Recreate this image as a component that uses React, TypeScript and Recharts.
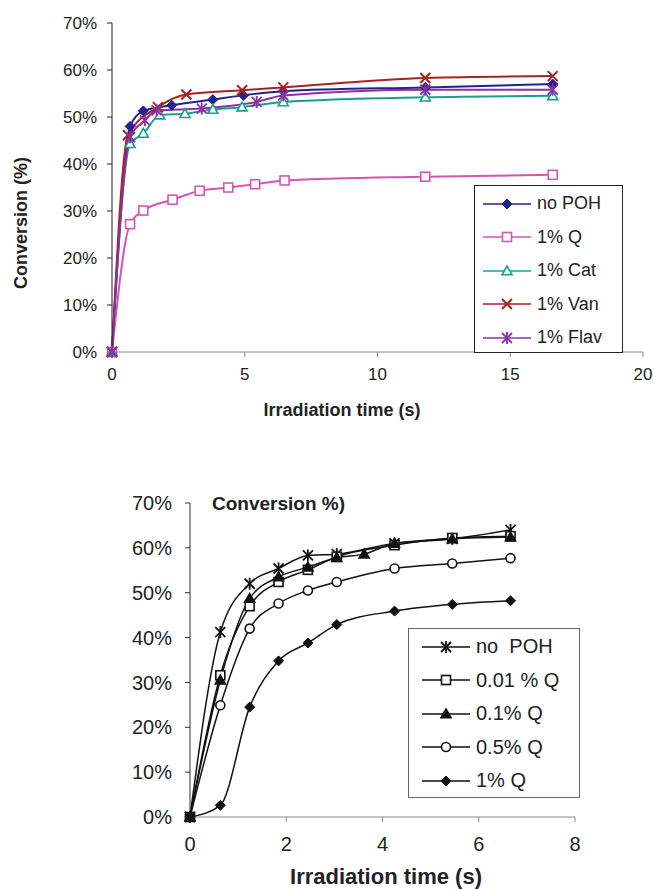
import React from 'react'
import { LineChart, Line, XAxis, YAxis, Legend, Label } from 'recharts'

// top panel: conversion vs irradiation time, polyphenol additives (%)
const noPohTime = [0, 0.68, 1.18, 2.25, 3.8, 4.95, 6.45, 11.8, 16.6]
const noPohConv = [0, 48.0, 51.3, 52.5, 53.7, 54.6, 55.5, 56.3, 57.0]
const qTime = [0, 0.68, 1.18, 2.28, 3.3, 4.38, 5.39, 6.5, 11.8, 16.6]
const qConv = [0, 27.2, 30.1, 32.4, 34.3, 35.0, 35.7, 36.5, 37.3, 37.7]
const catTime = [0, 0.68, 1.18, 1.8, 2.75, 3.8, 4.9, 6.45, 11.8, 16.6]
const catConv = [0, 44.3, 46.5, 50.4, 50.7, 51.6, 52.1, 53.2, 54.2, 54.5]
const vanTime = [0, 0.6, 1.73, 2.8, 4.9, 6.45, 11.8, 16.6]
const vanConv = [0, 46.1, 52.1, 54.8, 55.7, 56.3, 58.3, 58.7]
const flavTime = [0, 0.68, 1.24, 1.68, 3.38, 5.45, 6.45, 11.8, 16.6]
const flavConv = [0, 45.7, 49.3, 51.4, 51.8, 53.2, 54.6, 55.8, 55.8]

// bottom panel: quercetin concentration series
const qSeriesTime = [0, 0.63, 1.24, 1.84, 2.45, 3.05, 3.62, 4.25, 5.45, 6.66]
const pohFreeConv = [0, 41.2, 52.0, 55.4, 58.3, 58.6, null, 61.0, 62.0, 64.0]
const q001Conv = [0, 31.6, 47.0, 52.4, 55.1, 58.0, null, 60.6, 62.2, 62.6]
const q01Conv = [0, 30.5, 48.7, 53.5, 55.7, 57.8, 58.6, 61.0, 62.0, 62.4]
const q05Conv = [0, 24.9, 42.0, 47.6, 50.5, 52.4, null, 55.4, 56.5, 57.7]
const q1Conv = [0, 2.6, 24.5, 34.8, 38.8, 42.9, null, 45.9, 47.4, 48.2]

const topXTicks = [0, 5, 10, 15, 20]
const bottomXTicks = [0, 2, 4, 6, 8]
const yTicks = [0, 10, 20, 30, 40, 50, 60, 70]

const toPoints = (xs: number[], ys: (number | null)[]) =>
  xs.map((t, i) => ({ t, v: ys[i] })).filter((p) => p.v !== null)

type Shape = 'diamond' | 'square' | 'triangle' | 'triangleFilled' | 'x' | 'asterisk' | 'circle'

function Mark({ shape, cx, cy, color, s = 5 }: { shape: Shape; cx: number; cy: number; color: string; s?: number }) {
  const sw = 1.6
  switch (shape) {
    case 'diamond':
      return <polygon points={`${cx},${cy - s} ${cx + s},${cy} ${cx},${cy + s} ${cx - s},${cy}`} fill={color} stroke={color} />
    case 'square':
      return <rect x={cx - s + 0.5} y={cy - s + 0.5} width={2 * s - 1} height={2 * s - 1} fill="#fff" stroke={color} strokeWidth={sw} />
    case 'triangle':
    case 'triangleFilled':
      return (
        <polygon
          points={`${cx},${cy - s} ${cx + s},${cy + s * 0.75} ${cx - s},${cy + s * 0.75}`}
          fill={shape === 'triangle' ? '#fff' : color}
          stroke={color}
          strokeWidth={sw}
        />
      )
    case 'circle':
      return <circle cx={cx} cy={cy} r={s - 0.5} fill="#fff" stroke={color} strokeWidth={sw} />
    case 'x':
      return (
        <g stroke={color} strokeWidth={2}>
          <line x1={cx - s} y1={cy - s} x2={cx + s} y2={cy + s} />
          <line x1={cx - s} y1={cy + s} x2={cx + s} y2={cy - s} />
        </g>
      )
    case 'asterisk':
      return (
        <g stroke={color} strokeWidth={1.8}>
          <line x1={cx - s} y1={cy - s} x2={cx + s} y2={cy + s} />
          <line x1={cx - s} y1={cy + s} x2={cx + s} y2={cy - s} />
          <line x1={cx} y1={cy - s - 1} x2={cx} y2={cy + s + 1} />
        </g>
      )
  }
  return null
}

interface Series {
  name: string
  color: string
  shape: Shape
  data: { t: number; v: number | null }[]
}

const topSeries: Series[] = [
  { name: 'no POH', color: '#23238c', shape: 'diamond', data: toPoints(noPohTime, noPohConv) },
  { name: '1% Q', color: '#d455b4', shape: 'square', data: toPoints(qTime, qConv) },
  { name: '1% Cat', color: '#17a08e', shape: 'triangle', data: toPoints(catTime, catConv) },
  { name: '1% Van', color: '#a82222', shape: 'x', data: toPoints(vanTime, vanConv) },
  { name: '1% Flav', color: '#8e2fa3', shape: 'asterisk', data: toPoints(flavTime, flavConv) },
]

const bottomSeries: Series[] = [
  { name: 'no  POH', color: '#111', shape: 'asterisk', data: toPoints(qSeriesTime, pohFreeConv) },
  { name: '0.01 % Q', color: '#111', shape: 'square', data: toPoints(qSeriesTime, q001Conv) },
  { name: '0.1% Q', color: '#111', shape: 'triangleFilled', data: toPoints(qSeriesTime, q01Conv) },
  { name: '0.5% Q', color: '#111', shape: 'circle', data: toPoints(qSeriesTime, q05Conv) },
  { name: '1% Q', color: '#111', shape: 'diamond', data: toPoints(qSeriesTime, q1Conv) },
]

function LegendBox({ series, fontSize, padLeft, markSize, border }: { series: Series[]; fontSize: number; padLeft: number; markSize: number; border: string }) {
  return (
    <div
      style={{
        boxSizing: 'border-box', width: '100%', height: '100%', border: `1.5px solid ${border}`,
        background: '#fff', paddingLeft: padLeft, paddingTop: 1,
      }}
    >
      {series.map((s) => (
        <div key={s.name} style={{ height: 33.5, display: 'flex', alignItems: 'center', fontSize, color: '#222', whiteSpace: 'pre' }}>
          <svg width={48} height={16} style={{ marginRight: 6 }}>
            <line x1={0} y1={8} x2={48} y2={8} stroke={s.color} strokeWidth={1.6} />
            <Mark shape={s.shape} cx={24} cy={8} color={s.color} s={markSize} />
          </svg>
          <span>{s.name}</span>
        </div>
      ))}
    </div>
  )
}

const font = 'Liberation Sans, Arial, sans-serif'

export default function App() {
  return (
    <div style={{ position: 'absolute', left: 0, top: 0, width: 654, height: 889, background: '#fff', fontFamily: font }}>
      {/* 위쪽 그래프 */}
      <div style={{ position: 'absolute', left: 0, top: 0 }}>
        <LineChart width={654} height={430} margin={{ top: 23, right: 11, bottom: 38, left: 0 }}>
          <XAxis
            type="number" dataKey="t" domain={[0, 20]} ticks={topXTicks} allowDuplicatedCategory={false}
            height={40} tickSize={5} tickMargin={11} stroke="#888"
            tick={{ fontSize: 17, fill: '#222', fontFamily: font }}
          >
            <Label content={() => (
              <text x={342} y={416} textAnchor="middle" fontSize={18} fontWeight="bold" fill="#222" fontFamily={font}>
                Irradiation time (s)
              </text>
            )} />
          </XAxis>
          <YAxis
            type="number" dataKey="v" domain={[0, 70]} ticks={yTicks} width={112}
            tickSize={5} tickMargin={10} stroke="#222" tickFormatter={(v) => `${v}%`}
            tick={{ fontSize: 17, fill: '#222', fontFamily: font }}
          >
            <Label content={() => (
              <text x={27} y={223} transform="rotate(-90 27 223)" textAnchor="middle" fontSize={18} fontWeight="bold" fill="#222" fontFamily={font}>
                Conversion (%)
              </text>
            )} />
          </YAxis>
          {topSeries.map((s) => (
            <Line
              key={s.name} data={s.data} dataKey="v" name={s.name} type="monotone"
              stroke={s.color} strokeWidth={2} isAnimationActive={false}
              dot={(p: any) => <Mark key={`${s.name}-${p.index}`} shape={s.shape} cx={p.cx} cy={p.cy} color={s.color} s={5} />}
            />
          ))}
          <Legend
            layout="vertical" align="center" verticalAlign="middle"
            wrapperStyle={{ left: 474, top: 185, width: 149, height: 168 }}
            content={() => <LegendBox series={topSeries} fontSize={18} padLeft={8} markSize={5} border="#222" />}
          />
        </LineChart>
      </div>

      {/* 아래쪽 그래프 */}
      <div style={{ position: 'absolute', left: 0, top: 440 }}>
        <LineChart width={654} height={449} margin={{ top: 63, right: 79, bottom: 30, left: 0 }}>
          <XAxis
            type="number" dataKey="t" domain={[0, 8]} ticks={bottomXTicks} allowDuplicatedCategory={false}
            height={42} tickSize={5} tickMargin={15} stroke="#888"
            tick={{ fontSize: 20, fill: '#222', fontFamily: font }}
          >
            <Label content={() => (
              <text x={386} y={444} textAnchor="middle" fontSize={22} fontWeight="bold" fill="#222" fontFamily={font}>
                Irradiation time (s)
              </text>
            )} />
          </XAxis>
          <YAxis
            type="number" dataKey="v" domain={[0, 70]} ticks={yTicks} width={190}
            tickSize={5} tickMargin={13} stroke="#333" tickFormatter={(v) => `${v}%`}
            tick={{ fontSize: 20, fill: '#222', fontFamily: font }}
          >
            <Label content={() => (
              <text x={212} y={70} fontSize={19} fontWeight="bold" fill="#222" fontFamily={font}>
                Conversion %)
              </text>
            )} />
          </YAxis>
          {bottomSeries.map((s) => (
            <Line
              key={s.name} data={s.data} dataKey="v" name={s.name} type="monotone"
              stroke={s.color} strokeWidth={1.5} isAnimationActive={false}
              dot={(p: any) => <Mark key={`${s.name}-${p.index}`} shape={s.shape} cx={p.cx} cy={p.cy} color={s.color} s={5} />}
            />
          ))}
          <Legend
            layout="vertical" align="center" verticalAlign="middle"
            wrapperStyle={{ left: 408, top: 188, width: 172, height: 170 }}
            content={() => <LegendBox series={bottomSeries} fontSize={20} padLeft={13} markSize={5} border="#666" />}
          />
        </LineChart>
      </div>
    </div>
  )
}
